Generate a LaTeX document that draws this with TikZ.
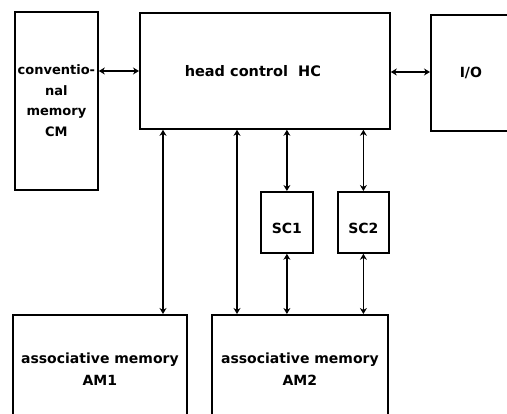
\documentclass[tikz,border=0pt]{standalone}
\usepackage{fontspec}
\setmainfont{DejaVu Sans}
\usetikzlibrary{arrows.meta}
\begin{document}
\begin{tikzpicture}[x=1pt,y=-1pt,
  box/.style={draw, line width=1.8pt, inner sep=0pt, anchor=north west, align=center,
    font=\bfseries\fontsize{14}{22}\selectfont},
  link/.style={{Stealth[length=6pt,width=7pt]}-{Stealth[length=6pt,width=7pt]}, line width=1.3pt}]
\useasboundingbox (0,0) rectangle (507,414);
% boxes
\node[box, minimum width=83pt, minimum height=178pt,
  font=\bfseries\fontsize{13}{20.5}\selectfont] (cm) at (14,11)
  {conventio-\\nal\\memory\\CM};
\node[box, minimum width=250pt, minimum height=116pt,
  font=\bfseries\fontsize{14.5}{22}\selectfont] (hc) at (139,12)
  {head control\hspace{0.7em}HC\hspace{24pt}};
\node[box, minimum width=80pt, minimum height=116pt] (io) at (430,14) {I/O};
\node[box, minimum width=52pt, minimum height=61pt, text height=22pt, text depth=0pt] (sc1) at (260,191) {SC1};
\node[box, minimum width=51pt, minimum height=61pt, text height=22pt, text depth=0pt] (sc2) at (337,191) {SC2};
\node[box, minimum width=174pt, minimum height=108pt] (am1) at (12,314)
  {associative memory\\AM1};
\node[box, minimum width=176pt, minimum height=108pt] (am2) at (211,314)
  {associative memory\\AM2};
% guide coordinates
\coordinate (ya) at (0,71);
\coordinate (yb) at (0,72);
\coordinate (xa) at (163,0);
\coordinate (xb) at (237,0);
% connectors
\draw[link] (cm.east |- ya) -- (hc.west |- ya);
\draw[link] (hc.east |- yb) -- (io.west |- yb);
\draw[link] (hc.south -| xa) -- (am1.north -| xa);
\draw[link] (hc.south -| xb) -- (am2.north -| xb);
\draw[link] (hc.south -| sc1.north) -- (sc1.north);
\draw[link] (hc.south -| sc2.north) -- (sc2.north);
\draw[link] (sc1.south) -- (am2.north -| sc1.south);
\draw[link] (sc2.south) -- (am2.north -| sc2.south);
\end{tikzpicture}
\end{document}
